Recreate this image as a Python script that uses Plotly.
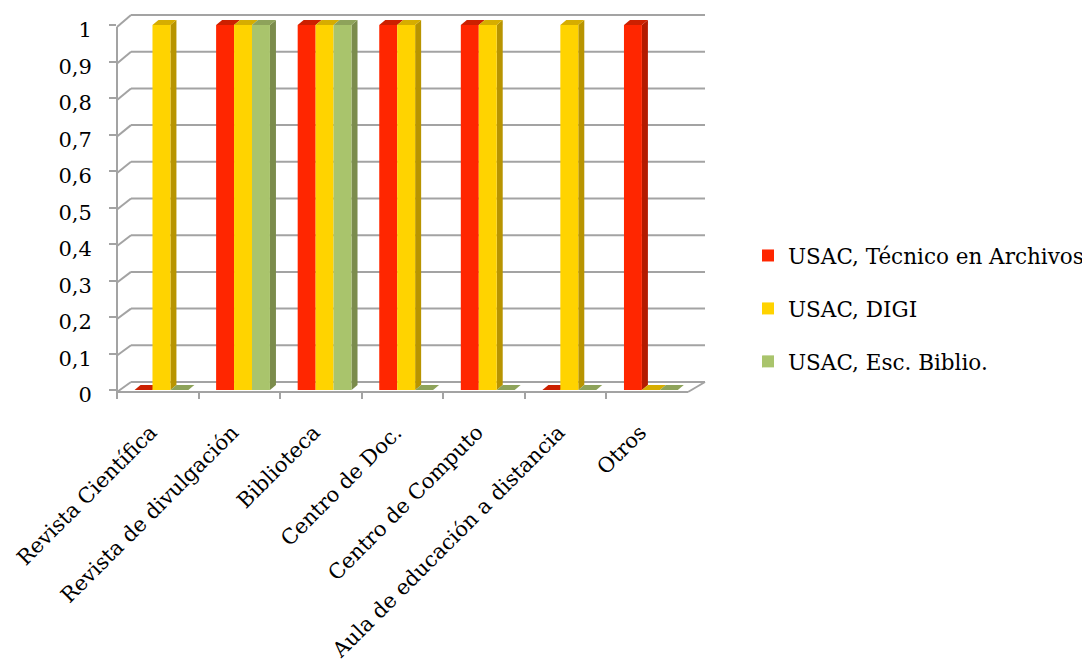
import plotly.graph_objects as go

categories = ["Revista Científica", "Revista de divulgación", "Biblioteca", "Centro de Doc.",
              "Centro de Computo", "Aula de educación a distancia", "Otros"]
series_names = ["USAC, Técnico en Archivos", "USAC, DIGI", "USAC, Esc. Biblio."]
tecnico = [0, 1, 1, 1, 1, 0, 1]
digi = [1, 1, 1, 1, 1, 1, 0]
biblio = [0, 1, 1, 0, 0, 0, 0]
y_ticks = [0, 0.1, 0.2, 0.3, 0.4, 0.5, 0.6, 0.7, 0.8, 0.9, 1]
y_ticktext = ["0", "0,1", "0,2", "0,3", "0,4", "0,5", "0,6", "0,7", "0,8", "0,9", "1"]

series_values = [tecnico, digi, biblio]
front_colors = ["#FF2600", "#FFD300", "#A9C46C"]
top_colors = ["#CC2000", "#D6AD00", "#8EA35A"]
side_colors = ["#B31B00", "#B89400", "#7B8C4C"]

OFF = 8                      # default page body margin
W, H = 1090 - OFF, 663 - OFF
FONT = "DejaVu Serif"

# pixel geometry (page coordinates)
FX0, FX1 = 117, 688          # front frame
BY0, BY1 = 390, 25           # bars (value 0 / value 1)
BKX0, BKX1 = 131, 705        # back wall
BKY0, BKY1 = 382, 15
LFY0, LFY1 = 392, 27         # front left edge tick positions
PAD = 0.03                   # extra y-range so shifted labels are kept


def px(x):
    return min(max((x - OFF) / W, 0), 1)


def py(y):
    return min(max(1 - (y - OFF) / H, 0), 1)


n = len(categories)
cat_px = (FX1 - FX0) / n
unit_px = BY0 - BY1
bar_w = 0.22
bar_off0 = -0.285
ddx = 6 / cat_px
ddy = 5 / unit_px

fig = go.Figure()

for s, (name, vals) in enumerate(zip(series_names, series_values)):
    fig.add_trace(go.Bar(
        x=categories, y=vals, name=name,
        width=bar_w, offset=bar_off0 + bar_w * s,
        marker=dict(color=front_colors[s], line=dict(width=0)),
        xaxis="x", yaxis="y",
        legendgroup=name,
        hoverinfo="x+y+name",
    ))

GRID = "#A3A3A3"
shapes = []
# back-wall grid and perspective connectors
for t in y_ticks:
    fy = LFY0 - (LFY0 - LFY1) * t
    by = BKY0 - (BKY0 - BKY1) * t
    shapes.append(dict(type="line", xref="paper", yref="paper",
                       x0=px(FX0), y0=py(fy), x1=px(BKX0), y1=py(by),
                       line=dict(color=GRID, width=2), layer="below"))
    shapes.append(dict(type="line", xref="paper", yref="paper",
                       x0=px(BKX0), y0=py(by), x1=px(BKX1), y1=py(by),
                       line=dict(color=GRID, width=2), layer="below"))
shapes.append(dict(type="line", xref="paper", yref="paper",
                   x0=px(FX1), y0=py(LFY0), x1=px(BKX1), y1=py(BKY0),
                   line=dict(color=GRID, width=2), layer="below"))
shapes.append(dict(type="line", xref="paper", yref="paper",
                   x0=px(FX0), y0=py(LFY0), x1=px(FX1), y1=py(LFY0),
                   line=dict(color=GRID, width=2), layer="below"))
# front vertical edge
shapes.append(dict(type="line", xref="paper", yref="paper",
                   x0=px(FX0), y0=py(LFY0), x1=px(FX0), y1=py(LFY1),
                   line=dict(color=GRID, width=2), layer="below"))

# 3D faces of bars computed from the data
for s, vals in enumerate(series_values):
    for i, v in enumerate(vals):
        x0 = i + bar_off0 + bar_w * s
        x1 = x0 + bar_w
        nxt = series_values[s + 1][i] if s + 1 < len(series_values) else -1
        if nxt < v:
            shapes.append(dict(
                type="path", xref="x", yref="y", layer="below",
                path=f"M {x1},0 L {x1+ddx},{ddy} L {x1+ddx},{v+ddy} L {x1},{v} Z",
                fillcolor=side_colors[s], line=dict(width=0)))
        shapes.append(dict(
            type="path", xref="x", yref="y", layer="below",
            path=f"M {x0},{v} L {x0+ddx},{v+ddy} L {x1+ddx},{v+ddy} L {x1},{v} Z",
            fillcolor=top_colors[s], line=dict(width=0)))

fig.update_layout(
    width=W, height=H,
    margin=dict(l=0, r=0, t=0, b=0, autoexpand=False),
    paper_bgcolor="white", plot_bgcolor="rgba(0,0,0,0)",
    barmode="overlay",
    font=dict(family=FONT, color="black"),
    showlegend=True,
    legend=dict(x=px(748), y=py(235), xanchor="left", yanchor="top",
                font=dict(family=FONT, size=21.5, color="black"),
                tracegroupgap=22, bgcolor="rgba(0,0,0,0)"),
    xaxis=dict(domain=[px(FX0), px(FX1)], anchor="free", position=py(BY0),
               type="category",
               categoryorder="array", categoryarray=categories,
               range=[-0.5, n - 0.5], tickson="boundaries",
               ticks="outside", ticklen=8, tickwidth=2, tickcolor=GRID,
               showline=False, showgrid=False,
               tickangle=-45, tickfont=dict(family=FONT, size=21, color="black"),
               ticklabelstandoff=25, ticklabelshift=-7,
               automargin=False, fixedrange=True),
    yaxis=dict(domain=[py(BY0 + PAD * unit_px), py(BY1 - PAD * unit_px)],
               anchor="x", range=[-PAD, 1 + PAD],
               tickvals=y_ticks, ticktext=y_ticktext,
               showgrid=False, zeroline=False,
               ticks="outside", ticklen=7, tickwidth=2, tickcolor=GRID,
               showline=False,
               tickfont=dict(family=FONT, size=21, color="black"),
               ticklabelstandoff=13, ticklabelshift=5, automargin=False,
               fixedrange=True),
    shapes=shapes,
)

fig.write_html("out.html")
